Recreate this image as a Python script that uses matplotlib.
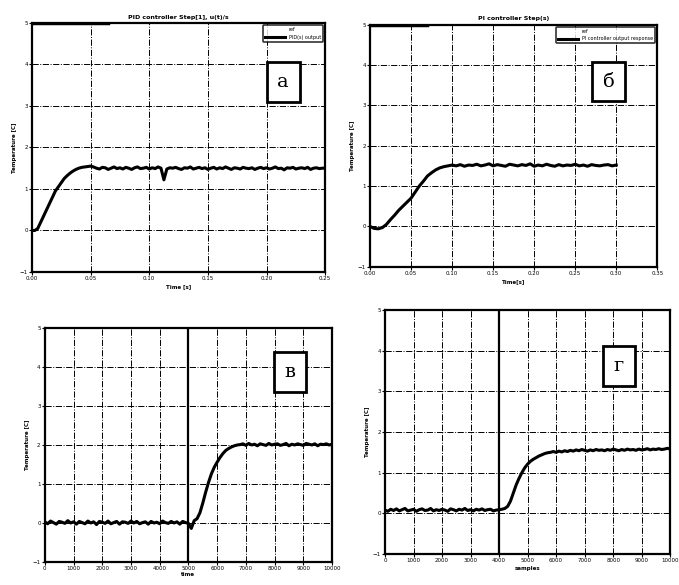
import numpy as np
from matplotlib import pyplot as plt

# panel a: PID response, sampled every 0.0025 s
t_a = np.arange(101) * 0.0025
y_a = [0.0, 0.0, 0.05, 0.2, 0.35, 0.5, 0.65, 0.8, 0.95, 1.05,
       1.15, 1.25, 1.32, 1.38, 1.43, 1.47, 1.5, 1.52, 1.53, 1.54, 1.55,
       1.53, 1.50, 1.48, 1.52, 1.51, 1.47, 1.50, 1.53, 1.49, 1.51,
       1.48, 1.52, 1.50, 1.47, 1.51, 1.53, 1.49, 1.50, 1.52, 1.48,
       1.51, 1.49, 1.53, 1.50, 1.22, 1.48, 1.51, 1.50, 1.52, 1.49,
       1.47, 1.51, 1.50, 1.53, 1.48, 1.50, 1.52, 1.49, 1.51, 1.47,
       1.50, 1.52, 1.48, 1.51, 1.49, 1.53, 1.50, 1.47, 1.51, 1.50,
       1.48, 1.52, 1.50, 1.49, 1.51, 1.47, 1.50, 1.52, 1.49, 1.51,
       1.48, 1.50, 1.53, 1.49, 1.50, 1.46, 1.51, 1.50, 1.52, 1.48,
       1.50, 1.51, 1.49, 1.52, 1.47, 1.50, 1.51, 1.49, 1.50, 1.50]

# panel b: PI response, sampled every 0.005 s
t_b = np.arange(61) * 0.005
y_b = [0.0, -0.05, -0.06, -0.03, 0.05, 0.17, 0.28, 0.4, 0.5, 0.6,
       0.7, 0.85, 1.0, 1.12, 1.25, 1.33, 1.4, 1.45, 1.48, 1.5, 1.52,
       1.50, 1.53, 1.49, 1.52, 1.51, 1.54, 1.50, 1.52, 1.55, 1.50,
       1.53, 1.51, 1.49, 1.54, 1.52, 1.50, 1.53, 1.51, 1.55, 1.49,
       1.52, 1.50, 1.54, 1.51, 1.49, 1.53, 1.50, 1.52, 1.51, 1.54,
       1.50, 1.52, 1.49, 1.53, 1.51, 1.50, 1.52, 1.53, 1.50, 1.52]

# panel v: step at sample 5000
n_v = np.arange(101) * 100
y_v = [0.02, -0.03, 0.04, 0.00, -0.04, 0.03, 0.01, -0.02, 0.05, -0.01,
       0.02, -0.04, 0.03, 0.00, -0.03, 0.04, -0.01, 0.02, -0.05, 0.03,
       0.01, -0.02, 0.04, -0.03, 0.00, 0.03, -0.04, 0.02, 0.01, -0.02,
       0.04, -0.01, 0.03, -0.03, 0.00, 0.02, -0.04, 0.03, -0.01, 0.01,
       -0.03, 0.04, 0.00, -0.02, 0.03, -0.01, 0.02, -0.04, 0.03, 0.00,
       -0.02, -0.15, 0.05, 0.1, 0.25, 0.5, 0.78, 1.03, 1.25, 1.42,
       1.55, 1.67, 1.77, 1.85, 1.9, 1.94, 1.97, 1.99, 2.0,
       2.02, 1.98, 2.03, 1.99, 2.01, 1.97, 2.02, 2.00, 1.98, 2.03,
       1.99, 2.01, 2.02, 1.98, 2.00, 2.03, 1.97, 2.01, 1.99, 2.02,
       2.00, 1.98, 2.03, 2.01, 1.99, 2.02, 1.97, 2.01, 2.00, 2.02,
       1.99, 2.01]

# panel g: step at sample 4000
n_g = np.arange(101) * 100
y_g = [0.08, 0.05, 0.10, 0.07, 0.11, 0.06, 0.09, 0.12, 0.06, 0.08,
       0.10, 0.05, 0.09, 0.11, 0.07, 0.08, 0.12, 0.06, 0.09, 0.07,
       0.10, 0.08, 0.05, 0.11, 0.09, 0.06, 0.10, 0.08, 0.12, 0.07,
       0.09, 0.06, 0.10, 0.08, 0.11, 0.07, 0.09, 0.10, 0.06, 0.08,
       0.09, 0.1, 0.12, 0.17, 0.3, 0.5, 0.7, 0.86, 1.0, 1.12,
       1.21, 1.28, 1.33, 1.37, 1.41, 1.44, 1.47, 1.49, 1.5,
       1.52, 1.50, 1.53, 1.51, 1.54, 1.52, 1.55, 1.53, 1.56, 1.54,
       1.57, 1.55, 1.53, 1.56, 1.54, 1.57, 1.55, 1.56, 1.54, 1.57,
       1.55, 1.58, 1.56, 1.54, 1.57, 1.55, 1.58, 1.56, 1.57, 1.55,
       1.58, 1.56, 1.57, 1.59, 1.56, 1.58, 1.57, 1.59, 1.57, 1.58,
       1.60, 1.58]

y_ticks = [-1, 0, 1, 2, 3, 4, 5]
x_ticks_a = [0, 0.05, 0.1, 0.15, 0.2, 0.25]
x_ticks_b = [0, 0.05, 0.1, 0.15, 0.2, 0.25, 0.3, 0.35]
x_ticks_n = list(range(0, 10001, 1000))
panel_letters = ["а", "б", "в", "г"]

fig = plt.figure(figsize=(6.79, 5.85), dpi=100)
plt.rcParams["font.size"] = 4


def style_axes(ax, xticks, xmax):
    ax.set_xlim(0, xmax)
    ax.set_ylim(-1, 5)
    ax.set_xticks(xticks)
    ax.set_yticks(y_ticks)
    ax.grid(True, color="black", linestyle="-.", linewidth=0.7)
    ax.tick_params(labelsize=4, length=2, width=0.8, pad=1)
    for s in ax.spines.values():
        s.set_linewidth(1.6)


def letter_box(ax, x, y, letter):
    ax.text(x, y, letter, transform=ax.transAxes, ha="center", va="center",
            fontsize=14, family="DejaVu Serif", zorder=5,
            bbox=dict(boxstyle="square,pad=0.55", facecolor="white",
                      edgecolor="black", linewidth=2))


ax1 = fig.add_axes([0.047, 0.535, 0.432, 0.426])
ax1.plot([0, 0.065], [5, 5], color="black", linewidth=2.5, label="ref")
ax1.plot(t_a, y_a, color="black", linewidth=2.2, label="PID(s) output")
style_axes(ax1, x_ticks_a, 0.25)
ax1.set_title("PID controller Step[1], u(t)/s", fontsize=4.5, fontweight="bold", pad=3)
ax1.set_xlabel("Time [s]", fontsize=4, fontweight="bold", labelpad=2)
ax1.set_ylabel("Temperature [C]", fontsize=4, fontweight="bold", labelpad=2)
leg = ax1.legend(loc="upper right", fontsize=3.5, handlelength=4, borderpad=0.4)
leg.get_frame().set_edgecolor("black")
leg.get_frame().set_linewidth(1.2)
leg.legend_handles[0].set_linewidth(0)
letter_box(ax1, 0.857, 0.763, panel_letters[0])

ax2 = fig.add_axes([0.545, 0.544, 0.423, 0.414])
ax2.plot([0, 0.07], [5, 5], color="black", linewidth=2.5, label="ref")
ax2.plot(t_b, y_b, color="black", linewidth=2.2, label="PI controller output response")
style_axes(ax2, x_ticks_b, 0.35)
ax2.set_title("PI controller Step(s)", fontsize=4.5, fontweight="bold", pad=3)
ax2.set_xlabel("Time[s]", fontsize=4, fontweight="bold", labelpad=2)
ax2.set_ylabel("Temperature [C]", fontsize=4, fontweight="bold", labelpad=2)
leg = ax2.legend(loc="upper right", fontsize=3.5, handlelength=4, borderpad=0.4)
leg.get_frame().set_edgecolor("black")
leg.get_frame().set_linewidth(1.2)
leg.legend_handles[0].set_linewidth(0)
letter_box(ax2, 0.83, 0.764, panel_letters[1])

ax3 = fig.add_axes([0.066, 0.04, 0.423, 0.40])
ax3.plot(n_v, y_v, color="black", linewidth=2.2)
ax3.axvline(5000, color="black", linewidth=1.6)
style_axes(ax3, x_ticks_n, 10000)
ax3.set_xlabel("time", fontsize=4, fontweight="bold", labelpad=1)
ax3.set_ylabel("Temperature [C]", fontsize=4, fontweight="bold", labelpad=2)
letter_box(ax3, 0.854, 0.81, panel_letters[2])

ax4 = fig.add_axes([0.567, 0.053, 0.42, 0.417])
ax4.plot(n_g, y_g, color="black", linewidth=2.2)
ax4.axvline(4000, color="black", linewidth=1.6)
style_axes(ax4, x_ticks_n, 10000)
ax4.set_xlabel("samples", fontsize=4, fontweight="bold", labelpad=2)
ax4.set_ylabel("Temperature [C]", fontsize=4, fontweight="bold", labelpad=2)
letter_box(ax4, 0.82, 0.77, panel_letters[3])

fig.savefig("out.png", dpi=100)
